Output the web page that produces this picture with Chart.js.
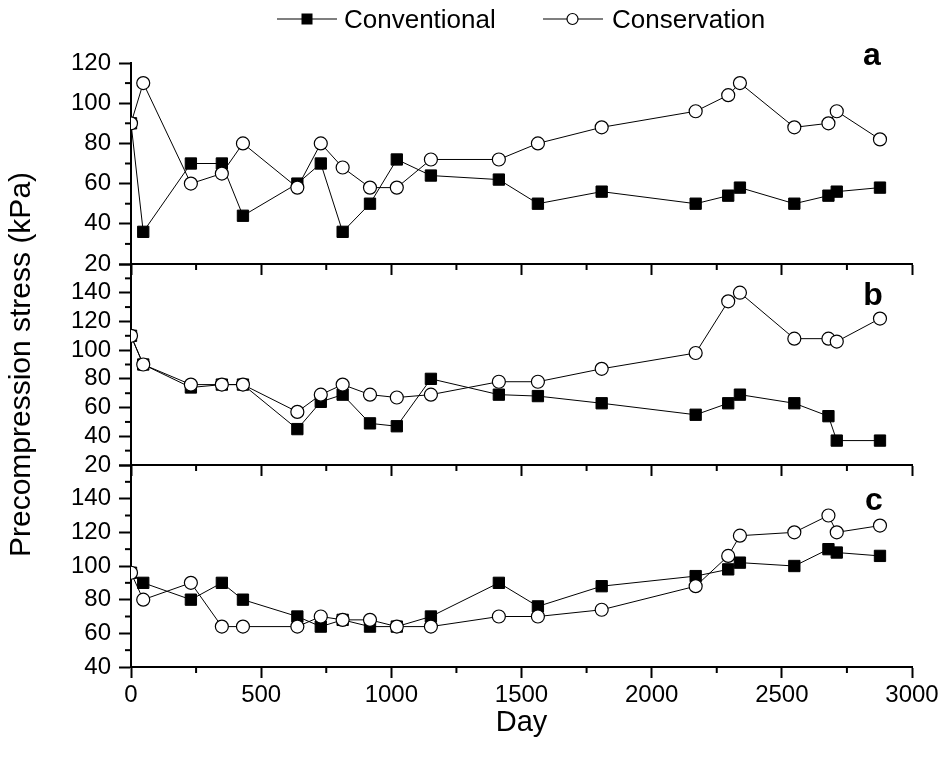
<!DOCTYPE html>
<html>
<head>
<meta charset="utf-8">
<title>Precompression stress</title>
<script src="https://cdn.jsdelivr.net/npm/chart.js@4.4.0/dist/chart.umd.min.js"></script>
<style>
  body { margin: 0; background: #fff; }
  #wrap { position: relative; width: 945px; height: 760px; font-family: "Liberation Sans", Arial, sans-serif; }
  #wrap canvas { position: absolute; left: 0; top: 0; }
  .leg { position: absolute; top: 6px; height: 26px; line-height: 26px; font-size: 26px; color: #000; white-space: nowrap; }
  .leg svg { position: absolute; left: 0; top: 0; }
  .leg span { position: absolute; left: 67px; top: 0; }
</style>
</head>
<body>
<div id="wrap">
  <canvas id="panelA" width="945" height="760"></canvas>
  <canvas id="panelB" width="945" height="760"></canvas>
  <canvas id="panelC" width="945" height="760"></canvas>
  <div class="leg" style="left:277px">
    <svg width="62" height="26"><line x1="0" y1="13" x2="60" y2="13" stroke="#000" stroke-width="1.2"/><rect x="24.5" y="7.5" width="11" height="11" fill="#000"/></svg>
    <span>Conventional</span>
  </div>
  <div class="leg" style="left:543px">
    <svg width="62" height="26"><line x1="0" y1="13" x2="60" y2="13" stroke="#000" stroke-width="1.2"/><circle cx="29.5" cy="13" r="5.5" fill="#fff" stroke="#000" stroke-width="1.2"/></svg>
    <span style="left:69px">Conservation</span>
  </div>
</div>

<script>
// sampling days (shared by all three panels)
const days = [0, 47, 230, 349, 430, 639, 729, 813, 918, 1021, 1152, 1413, 1563, 1808, 2169, 2294, 2339, 2548, 2679, 2711, 2877];

// panel a
const convA = [90, 36, 70, 70, 44, 60, 70, 36, 50, 72, 64, 62, 50, 56, 50, 54, 58, 50, 54, 56, 58];
const consA = [90, 110, 60, 65, 80, 58, 80, 68, 58, 58, 72, 72, 80, 88, 96, 104, 110, 88, 90, 96, 82];

// panel b
const convB = [110, 90, 74, 76, 76, 45, 64, 69, 49, 47, 80, 69, 68, 63, 55, 63, 69, 63, 54, 37, 37];
const consB = [110, 90, 76, 76, 76, 57, 69, 76, 69, 67, 69, 78, 78, 87, 98, 134, 140, 108, 108, 106, 122];

// panel c
const convC = [96, 90, 80, 90, 80, 70, 64, 68, 64, 64, 70, 90, 76, 88, 94, 98, 102, 100, 110, 108, 106];
const consC = [96, 80, 90, 64, 64, 64, 70, 68, 68, 64, 64, 70, 70, 74, 88, 106, 118, 120, 130, 120, 124];

const xTicks = [0, 500, 1000, 1500, 2000, 2500, 3000];
const FONT = "'Liberation Sans', Arial, sans-serif";

// short ticks half way between the major ones
const minorTicks = {
  id: "minorTicks",
  afterDraw(chart, args, opts) {
    const ctx = chart.ctx;
    const area = chart.chartArea;
    ctx.save();
    ctx.strokeStyle = "#000";
    ctx.lineWidth = 2;
    ["x", "y"].forEach((id) => {
      const scale = chart.scales[id];
      const len = opts[id];
      if (!scale || !len) return;
      const ticks = scale.ticks;
      for (let i = 0; i < ticks.length - 1; i++) {
        const p = scale.getPixelForValue((ticks[i].value + ticks[i + 1].value) / 2);
        ctx.beginPath();
        if (id === "x") {
          ctx.moveTo(p, area.bottom);
          ctx.lineTo(p, area.bottom + len);
        } else {
          ctx.moveTo(area.left - len, p);
          ctx.lineTo(area.left, p);
        }
        ctx.stroke();
      }
    });
    ctx.restore();
  },
};

// bold panel letter
const panelTag = {
  id: "panelTag",
  afterDraw(chart, args, opts) {
    if (!opts.text) return;
    const ctx = chart.ctx;
    ctx.save();
    ctx.font = "bold 32px " + FONT;
    ctx.fillStyle = "#000";
    ctx.textAlign = "center";
    ctx.textBaseline = "alphabetic";
    ctx.fillText(opts.text, opts.x, opts.y);
    ctx.restore();
  },
};

function series(values) {
  return days.map((d, i) => ({ x: d, y: values[i] }));
}

function makePanel(canvasId, conv, cons, cfg) {
  return new Chart(document.getElementById(canvasId), {
    type: "line",
    data: {
      datasets: [
        {
          label: "Conservation",
          data: series(cons),
          order: 0,
          borderColor: "#000",
          borderWidth: 1,
          pointStyle: "circle",
          pointRadius: 6.5,
          pointBackgroundColor: "#fff",
          pointBorderColor: "#000",
          pointBorderWidth: 1.2,
          tension: 0,
          clip: { left: 0, top: false, right: false, bottom: false },
        },
        {
          label: "Conventional",
          data: series(conv),
          order: 1,
          borderColor: "#000",
          borderWidth: 1,
          pointStyle: "rect",
          pointRadius: 8,
          pointBackgroundColor: "#000",
          pointBorderColor: "#000",
          pointBorderWidth: 1,
          tension: 0,
          clip: { left: 0, top: false, right: false, bottom: false },
        },
      ],
    },
    options: {
      responsive: false,
      animation: false,
      layout: {
        padding: { top: cfg.top, bottom: cfg.bottom, left: 0, right: 33 },
      },
      plugins: {
        legend: { display: false },
        tooltip: { enabled: false },
        minorTicks: { x: 6, y: 6 },
        panelTag: cfg.tag,
      },
      scales: {
        x: {
          type: "linear",
          min: 0,
          max: 3000,
          afterBuildTicks: (s) => {
            s.ticks = xTicks.map((v) => ({ value: v }));
          },
          ticks: {
            display: cfg.xLabels,
            color: "#000",
            font: { family: FONT, size: 24 },
            padding: 3,
            maxRotation: 0,
            autoSkip: false,
            callback: (v) => String(v),
          },
          grid: { drawOnChartArea: false, tickLength: 11, tickWidth: 2, tickColor: "#000" },
          border: { color: "#000", width: 2 },
          title: {
            display: cfg.xLabels,
            text: "Day",
            color: "#000",
            font: { family: FONT, size: 29 },
            padding: { top: 0, bottom: 2 },
          },
          afterFit: (s) => {
            s.height = cfg.xHeight;
          },
        },
        y: {
          min: cfg.yMin,
          max: cfg.yMax,
          ticks: {
            stepSize: 20,
            autoSkip: false,
            color: "#000",
            font: { family: FONT, size: 24 },
            padding: 8,
            callback: (v) => (v === 160 ? "" : String(v)),
          },
          grid: { drawOnChartArea: false, tickLength: 12, tickWidth: 2, tickColor: "#000" },
          border: { color: "#000", width: 2 },
          title: {
            display: cfg.yTitle,
            text: "Precompression stress (kPa)",
            color: "#000",
            font: { family: FONT, size: 30 },
            padding: { top: 4, bottom: 0 },
          },
          afterFit: (s) => {
            s.width = 131;
          },
        },
      },
    },
    plugins: [minorTicks, panelTag],
  });
}

makePanel("panelA", convA, consA, {
  top: 63, bottom: 481, xHeight: 15, xLabels: false, yTitle: false,
  yMin: 20, yMax: 120, tag: { text: "a", x: 872, y: 65 },
});
makePanel("panelB", convB, consB, {
  top: 264, bottom: 280, xHeight: 15, xLabels: false, yTitle: true,
  yMin: 20, yMax: 160, tag: { text: "b", x: 873, y: 305 },
});
makePanel("panelC", convC, consC, {
  top: 465, bottom: 18, xHeight: 75, xLabels: true, yTitle: false,
  yMin: 40, yMax: 160, tag: { text: "c", x: 874, y: 510 },
});
</script>
</body>
</html>
